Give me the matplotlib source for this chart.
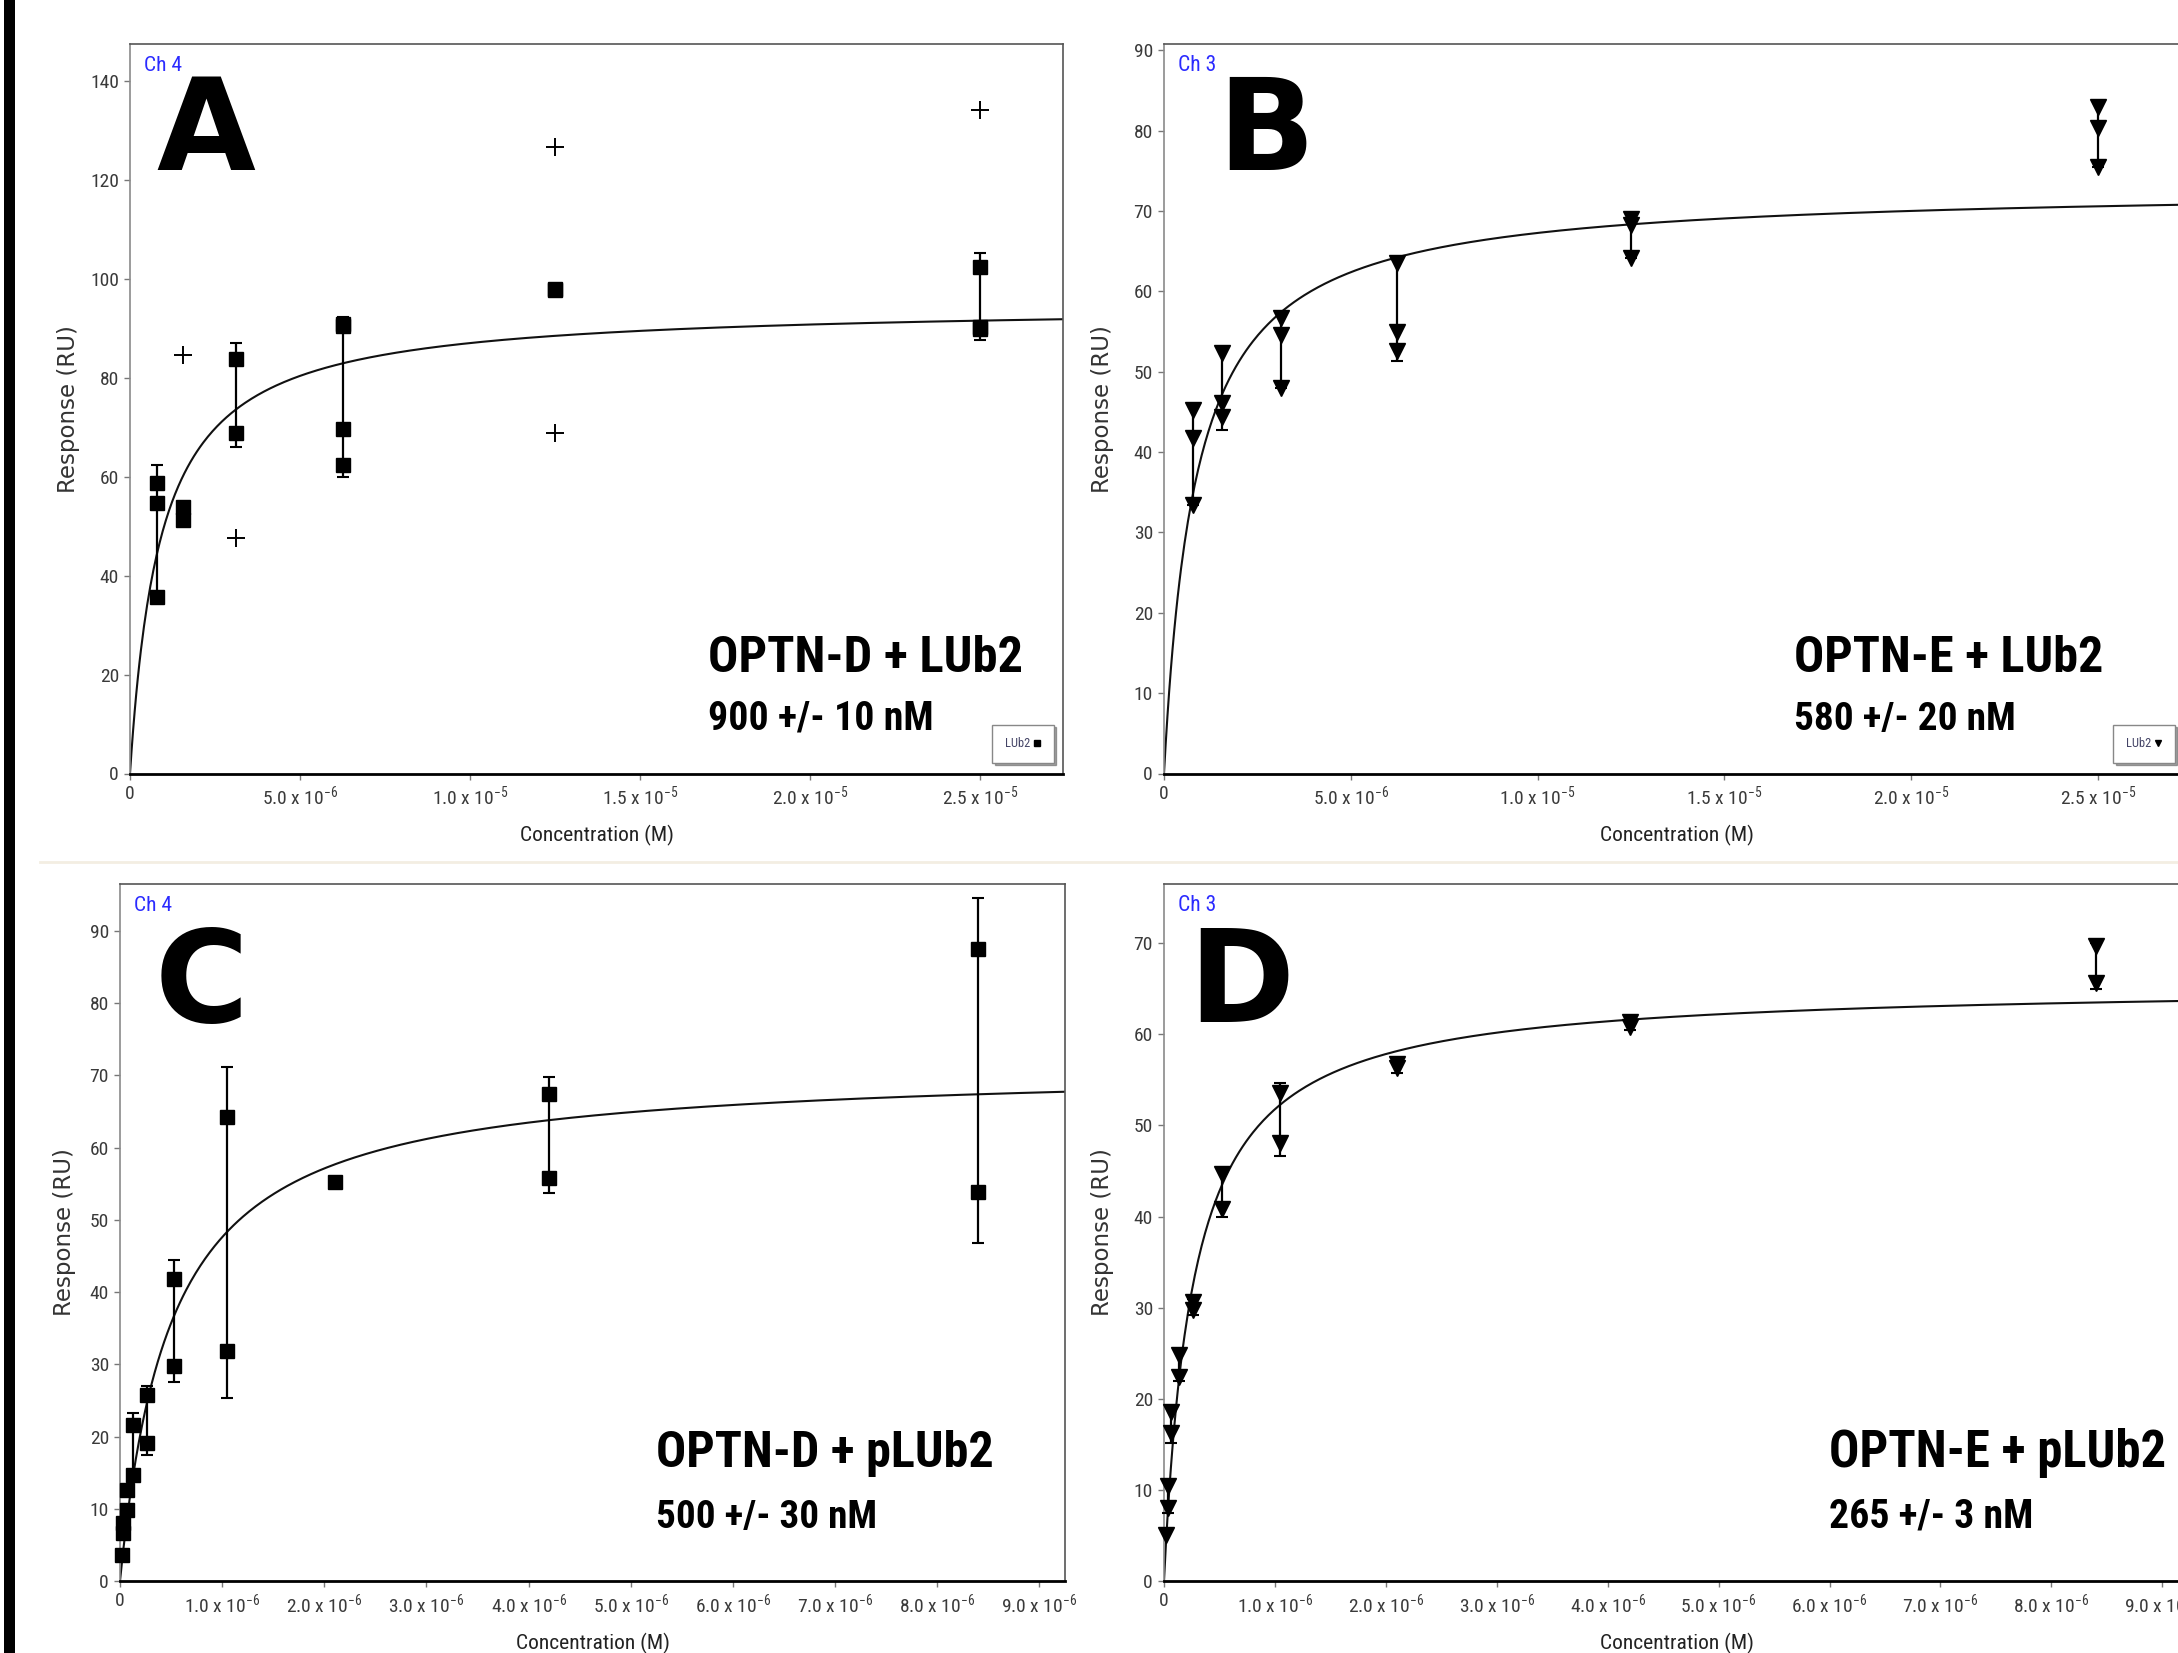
import os
import numpy as np
import matplotlib
matplotlib.use("Agg")
import matplotlib.pyplot as plt
from matplotlib import font_manager as fm
from matplotlib.font_manager import FontProperties
from matplotlib.lines import Line2D
from matplotlib.patches import Rectangle

# ---------------- data ----------------
conc_lub2 = [0.78125e-6, 1.5625e-6, 3.125e-6, 6.25e-6, 12.5e-6, 25e-6]
conc_plub2 = [0.0164e-6, 0.0328e-6, 0.0656e-6, 0.131e-6, 0.2625e-6,
              0.525e-6, 1.05e-6, 2.1e-6, 4.2e-6, 8.4e-6]

resp_A = [[58.6, 54.6, 35.7], [53.9, 51.2], [83.7, 68.7],
          [90.9, 90.4, 69.7, 62.3], [97.9, 97.6], [102.3, 90.2, 89.8]]
errlo_A = [35.7, np.nan, 65.9, 60.0, np.nan, 87.6]
errhi_A = [62.3, np.nan, 87.0, 92.2, np.nan, 105.1]
excl_x_A = [1.5625e-6, 3.125e-6, 12.5e-6, 12.5e-6, 25e-6]
excl_y_A = [84.5, 47.5, 126.6, 68.7, 134.1]

resp_B = [[45.2, 41.7, 33.4], [52.3, 46.1, 44.4], [56.7, 54.6, 48.0],
          [63.5, 55.0, 52.6], [69.0, 68.3, 64.2], [83.0, 80.3, 75.5]]
errlo_B = [33.4, 42.8, 48.0, 51.4, 64.2, 75.5]
errhi_B = [45.7, 52.9, 57.3, 64.1, 69.5, 83.5]

resp_C = [[3.6], [6.6, 8.0], [9.8, 12.6], [21.6, 14.7], [25.8, 19.1],
          [41.8, 29.8], [64.2, 31.9], [55.2], [67.4, 55.8], [87.5, 53.8]]
errlo_C = [np.nan, np.nan, np.nan, 14.0, 17.5, 27.5, 25.3, np.nan, 53.7, 46.8]
errhi_C = [np.nan, np.nan, np.nan, 23.2, 27.0, 44.5, 71.1, np.nan, 69.8, 94.5]

resp_D = [[5.0], [10.4, 8.0], [18.6, 16.2], [24.8, 22.4], [30.6, 29.7],
          [44.7, 40.8], [53.6, 48.1], [56.7, 56.3], [61.4, 60.8], [69.7, 65.6]]
errlo_D = [np.nan, 7.5, 15.2, 22.0, 29.2, 40.0, 46.7, 55.8, 60.5, 65.0]
errhi_D = [np.nan, 10.9, 19.0, 25.3, 31.0, 45.2, 54.7, 57.2, 61.9, 70.0]

# fitted steady-state affinity curves (Rmax in RU, KD in M)
fit_rmax = {"A": 94.8, "B": 73.0, "C": 71.4, "D": 65.5}
fit_kd = {"A": 0.90e-6, "B": 0.85e-6, "C": 0.50e-6, "D": 0.265e-6}

titles = {"A": "OPTN-D + LUb2", "B": "OPTN-E + LUb2",
          "C": "OPTN-D + pLUb2", "D": "OPTN-E + pLUb2"}
kd_texts = {"A": "900 +/- 10 nM", "B": "580 +/- 20 nM",
            "C": "500 +/- 30 nM", "D": "265 +/- 3 nM"}
channels = {"A": "Ch 4", "B": "Ch 3", "C": "Ch 4", "D": "Ch 3"}

ticks_AB = [0, 5e-6, 1e-5, 1.5e-5, 2e-5, 2.5e-5]
ticklabels_AB = ["0", r"5.0 x 10$^{\mathregular{-6}}$", r"1.0 x 10$^{\mathregular{-5}}$",
                 r"1.5 x 10$^{\mathregular{-5}}$", r"2.0 x 10$^{\mathregular{-5}}$",
                 r"2.5 x 10$^{\mathregular{-5}}$"]
ticks_CD = [0, 1e-6, 2e-6, 3e-6, 4e-6, 5e-6, 6e-6, 7e-6, 8e-6, 9e-6]
ticklabels_CD = ["0"] + [r"%d.0 x 10$^{\mathregular{-6}}$" % i for i in range(1, 10)]
yticks = {"A": list(range(0, 141, 20)), "B": list(range(0, 91, 10)),
          "C": list(range(0, 91, 10)), "D": list(range(0, 71, 10))}


# ---------------- fonts: look for a condensed sans ----------------
def _wt(w):
    if isinstance(w, str):
        return fm.weight_dict.get(w, 400)
    return int(w)


def find_condensed():
    best = {}
    for f in fm.fontManager.ttflist:
        n = f.name.lower()
        b = os.path.basename(f.fname).lower()
        if "italic" in b or "oblique" in b or str(f.style).lower() != "normal":
            continue
        if "mono" in n or "mono" in b or "serif" in n.replace("sans serif", ""):
            continue
        if "semicondensed" in b or "extracondensed" in b or "ultracondensed" in b:
            continue
        if "semi" in b or "extra" in b:
            continue
        iscond = ("narrow" in n or "narrow" in b or "condensed" in n or "condensed" in b
                  or f.stretch == "condensed")
        if not iscond:
            continue
        if "liberation" in n or "arial" in n:
            rank = 0
        elif "roboto" in n:
            rank = 1
        elif "noto sans" in n and "cjk" not in n:
            rank = 2
        elif "open sans" in n:
            rank = 3
        elif "dejavu sans" in n:
            rank = 4
        else:
            rank = 5
        w = _wt(f.weight)
        slot = "b" if w >= 600 else ("r" if w <= 450 else None)
        if slot is None:
            continue
        best.setdefault(rank, {})
        if slot not in best[rank] or abs(w - (700 if slot == "b" else 400)) < abs(
                best[rank][slot][1] - (700 if slot == "b" else 400)):
            best[rank][slot] = (f.fname, w)
    for rank in sorted(best):
        if "r" in best[rank] and "b" in best[rank]:
            return (FontProperties(fname=best[rank]["r"][0]),
                    FontProperties(fname=best[rank]["b"][0]), True)
    return (FontProperties(family="Liberation Sans"),
            FontProperties(family="Liberation Sans", weight="bold"), False)


NAR_R, NAR_B, HAVE_NARROW = find_condensed()


def fp(base, size):
    p = base.copy()
    p.set_size(size)
    return p


# ---------------- figure ----------------
W, H = 2178, 1653
fig = plt.figure(figsize=(W / 100, H / 100), dpi=100)
fig.patch.set_facecolor("white")


def rect(l, t, r, b):
    return [l / W, 1 - b / H, (r - l) / W, (b - t) / H]


def fx(x):
    return x / W


def fy(y):
    return 1 - y / H


panels = {
    "A": dict(box=(130, 44, 1063, 773.5), xlim=27.44e-6, ylim=147.4, marker="s"),
    "B": dict(box=(1164, 44, 2189, 773.5), xlim=27.44e-6, ylim=90.8, marker="v"),
    "C": dict(box=(120, 884, 1065, 1581), xlim=9.25e-6, ylim=96.5, marker="s"),
    "D": dict(box=(1164, 884, 2190, 1581), xlim=9.25e-6, ylim=76.5, marker="v"),
}
data = {"A": (conc_lub2, resp_A, errlo_A, errhi_A),
        "B": (conc_lub2, resp_B, errlo_B, errhi_B),
        "C": (conc_plub2, resp_C, errlo_C, errhi_C),
        "D": (conc_plub2, resp_D, errlo_D, errhi_D)}

tick_size = 14 if HAVE_NARROW else 11.5
fit_texts = []  # (text artist, target width in px)

for key, p in panels.items():
    l, t, r, b = p["box"]
    ax = fig.add_axes(rect(l, t, r, b))
    conc, resp, elo, ehi = data[key]
    ax.set_xlim(0, p["xlim"])
    ax.set_ylim(0, p["ylim"])

    xc = np.linspace(0, p["xlim"], 600)
    ax.plot(xc, fit_rmax[key] * xc / (fit_kd[key] + xc), color="#111111", lw=1.5, zorder=2)

    elo_a = np.array(elo, dtype=float)
    ehi_a = np.array(ehi, dtype=float)
    ok = ~np.isnan(elo_a)
    cx = np.array(conc)[ok]
    mid = (elo_a[ok] + ehi_a[ok]) / 2
    half = (ehi_a[ok] - elo_a[ok]) / 2
    _, caps, bars = ax.errorbar(cx, mid, yerr=half, fmt="none", ecolor="black",
                                elinewidth=1.6, capsize=4, capthick=1.5, zorder=3)
    for c in caps:
        c.set_color("#555555")
        c.set_clip_on(False)

    px = [c for c, vals in zip(conc, resp) for _ in vals]
    py = [v for vals in resp for v in vals]
    ms = 10 if p["marker"] == "s" else 11
    ax.plot(px, py, ls="none", marker=p["marker"], ms=ms, color="black",
            mec="black", zorder=4, clip_on=False)
    if key == "A":
        ax.plot(excl_x_A, excl_y_A, ls="none", marker="+", ms=13, mew=1.4,
                color="black", zorder=4)

    for s in ["top", "right"]:
        ax.spines[s].set_color("#555555")
        ax.spines[s].set_linewidth(1.2)
    ax.spines["left"].set_color("#8a8a8a")
    ax.spines["left"].set_linewidth(1.2)
    ax.spines["bottom"].set_color("black")
    ax.spines["bottom"].set_linewidth(2.0)

    if key in ("A", "B"):
        ax.set_xticks(ticks_AB)
        ax.set_xticklabels(ticklabels_AB)
    else:
        ax.set_xticks(ticks_CD)
        ax.set_xticklabels(ticklabels_CD)
    ax.set_yticks(yticks[key])
    ax.tick_params(axis="both", direction="out", length=4, width=1.0, color="#777777",
                   labelcolor="#3a3a3a", pad=4)
    for lab in ax.get_xticklabels() + ax.get_yticklabels():
        lab.set_fontproperties(fp(NAR_R, tick_size))

    if key in ("A", "B"):
        mk = "s" if key == "A" else "v"
        h = Line2D([], [], ls="none", marker=mk, color="black", ms=5)
        anchor = (0.99, 0.015) if key == "A" else (0.986, 0.015)
        leg = ax.legend([h], ["LUb2"], loc="lower right", bbox_to_anchor=anchor,
                        borderaxespad=0, frameon=True, shadow=True, fancybox=False,
                        markerfirst=False, handlelength=0.6, handletextpad=0.3,
                        borderpad=1.0, prop=fp(NAR_R, 9))
        leg.get_frame().set_edgecolor("#888888")
        leg.get_frame().set_linewidth(1.0)
        for tx in leg.get_texts():
            tx.set_color("#444466")

    tch = fig.text(fx(l + 14), fy(t + 27), channels[key], color="#2b2bff",
                   fontproperties=fp(NAR_R, 15.5), ha="left", va="baseline")
    fit_texts.append((tch, 38))

    cxp = (l + r) / 2
    cyp = (t + b) / 2
    fig.text(fx(l - 61 if key != "C" else l - 56), fy(cyp), "Response (RU)",
             rotation=90, ha="center", va="center", fontsize=16.5,
             family="DejaVu Sans", color="#333333")
    tcx = fig.text(fx(cxp), fy(b + 62), "Concentration (M)", ha="center", va="center",
                   fontproperties=fp(NAR_R, 17), color="#222222")
    fit_texts.append((tcx, 154))

title_pos = {"A": (708, 672), "B": (1794, 672), "C": (656, 1467), "D": (1829, 1467)}
kd_pos = {"A": (708, 730), "B": (1794, 730), "C": (656, 1528), "D": (1829, 1528)}
title_w = {"A": 315, "B": 309, "C": 337, "D": 337}
kd_w = {"A": 225, "B": 222, "C": 221, "D": 205}
for key in panels:
    x, y = title_pos[key]
    t1 = fig.text(fx(x), fy(y), titles[key], fontproperties=fp(NAR_B, 38),
                  ha="left", va="baseline", color="black")
    fit_texts.append((t1, title_w[key]))
    x, y = kd_pos[key]
    t2 = fig.text(fx(x), fy(y), kd_texts[key], fontproperties=fp(NAR_B, 33),
                  ha="left", va="baseline", color="black")
    fit_texts.append((t2, kd_w[key]))

letter_pos = {"A": (156, 170), "B": (1217, 170), "C": (155, 1022), "D": (1188, 1022)}
for key, (x, y) in letter_pos.items():
    fig.text(fx(x), fy(y), key, fontsize=92, fontweight="bold", family="DejaVu Sans",
             ha="left", va="baseline", color="black")

fig.add_artist(Line2D([fx(40), fx(W)], [fy(862), fy(862)], color="#f3eee2", lw=2))
fig.add_artist(Rectangle((fx(4), 0), fx(11), 1, transform=fig.transFigure,
                         facecolor="black", edgecolor="none"))

# scale texts so their widths match the reference
fig.canvas.draw()
renderer = fig.canvas.get_renderer()
for txt, target in fit_texts:
    wcur = txt.get_window_extent(renderer).width
    if wcur > 0:
        txt.set_fontsize(txt.get_fontsize() * target / wcur)

fig.savefig("out.png", dpi=100, facecolor="white")
